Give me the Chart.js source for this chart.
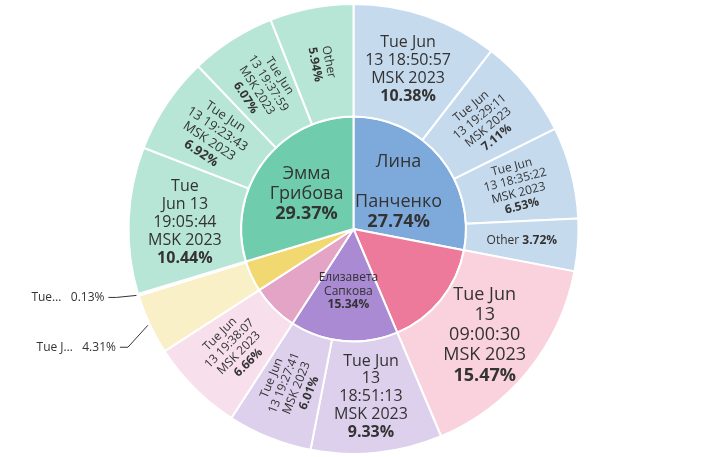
<!DOCTYPE html>
<html>
<head>
<meta charset="utf-8">
<script src="https://cdn.jsdelivr.net/npm/chart.js@4"></script>
<style>
  html, body { margin: 0; padding: 0; background: #fff; }
  #wrap { width: 707px; height: 457px; }
</style>
</head>
<body>
<div id="wrap"><canvas id="chart"></canvas></div>
<script>
// inner ring: people
const innerNames = ['Лина Панченко', 'p2', 'Елизавета Сапкова', 'p4', 'p5', 'Эмма Грибова'];
const innerValues = [27.74, 15.47, 15.34, 6.66, 4.44, 29.37];
const innerColors = ['#7eaadb', '#ee7a9b', '#a98ad3', '#e3a4c6', '#f2d870', '#6fcdae'];
const innerLines = [
  ['Лина', '', 'Панченко'], null, ['Елизавета', 'Сапкова'], null, null, ['Эмма', 'Грибова']
];

// outer ring: sessions
const outerValues = [10.38, 7.11, 6.53, 3.72, 15.47, 9.33, 6.01, 6.66, 4.31, 0.13, 10.44, 6.92, 6.07, 5.94];
const outerParent = [0, 0, 0, 0, 1, 2, 2, 3, 4, 4, 5, 5, 5, 5];
const outerLines = [
  ['Tue Jun', '13 18:50:57', 'MSK 2023'],
  ['Tue Jun', '13 19:29:11', 'MSK 2023'],
  ['Tue Jun', '13 18:35:22', 'MSK 2023'],
  ['Other'],
  ['Tue Jun', '13', '09:00:30', 'MSK 2023'],
  ['Tue Jun', '13', '18:51:13', 'MSK 2023'],
  ['Tue Jun', '13 19:27:41', 'MSK 2023'],
  ['Tue Jun', '13 19:38:07', 'MSK 2023'],
  ['Tue J…'],
  ['Tue…'],
  ['Tue', 'Jun 13', '19:05:44', 'MSK 2023'],
  ['Tue Jun', '13 19:23:43', 'MSK 2023'],
  ['Tue Jun', '13 19:37:59', 'MSK 2023'],
  ['Other']
];
const outerPalette = ['#c6daee', '#f9d2de', '#ddd0ec', '#f7e0ec', '#faf0c8', '#b8e6d6'];

// label styling per outer slice: mode h = horizontal, r = radial, o = outside
const outerMode = ['h', 'r', 'r', 'i', 'h', 'h', 'r', 'r', 'o', 'o', 'h', 'r', 'r', 'r'];
const outerSize = [16, 12, 12, 12, 18, 16, 12, 12, 12, 12, 16, 13, 12, 12];

const labelPlugin = {
  id: 'sunLabels',
  afterDatasetsDraw(chart) {
    const ctx = chart.ctx;
    ctx.save();
    ctx.fillStyle = '#333';
    ctx.textBaseline = 'middle';

    const drawBlock = (lines, pct, x, y, rot, size, pctSize) => {
      ctx.save();
      ctx.translate(x, y);
      ctx.rotate(rot);
      ctx.textAlign = 'center';
      const lh = size * 1.12;
      const all = lines.length + 1;
      let y0 = -((all - 1) * lh) / 2;
      lines.forEach((t, i) => {
        ctx.font = `${size}px "Open Sans", Arial, sans-serif`;
        ctx.fillText(t, 0, y0 + i * lh);
      });
      ctx.font = `bold ${pctSize}px "Open Sans", Arial, sans-serif`;
      ctx.fillText(pct, 0, y0 + lines.length * lh);
      ctx.restore();
    };

    const outerMeta = chart.getDatasetMeta(0);
    outerMeta.data.forEach((arc, i) => {
      const p = arc.getProps(['x', 'y', 'startAngle', 'endAngle', 'innerRadius', 'outerRadius']);
      const mid = (p.startAngle + p.endAngle) / 2;
      const r = (p.innerRadius + p.outerRadius) / 2;
      const cx = p.x + Math.cos(mid) * r;
      const cy = p.y + Math.sin(mid) * r;
      const pct = outerValues[i].toFixed(2) + '%';
      const mode = outerMode[i];
      const size = outerSize[i];
      if (mode === 'h') {
        drawBlock(outerLines[i], pct, cx, cy, 0, size, size);
      } else if (mode === 'i') {
        ctx.save();
        ctx.textAlign = 'center';
        ctx.font = `12px "Open Sans", Arial, sans-serif`;
        const w1 = ctx.measureText('Other ').width;
        ctx.font = `bold 12px "Open Sans", Arial, sans-serif`;
        const w2 = ctx.measureText(pct).width;
        const sx = cx - (w1 + w2) / 2;
        ctx.textAlign = 'left';
        ctx.font = `12px "Open Sans", Arial, sans-serif`;
        ctx.fillText('Other ', sx, cy);
        ctx.font = `bold 12px "Open Sans", Arial, sans-serif`;
        ctx.fillText(pct, sx + w1, cy);
        ctx.restore();
      } else if (mode === 'r') {
        let rot = mid;
        if (Math.cos(mid) < 0) rot += Math.PI;
        if (outerLines[i].length === 1) {
          ctx.save();
          ctx.translate(cx, cy);
          ctx.rotate(rot);
          ctx.textAlign = 'center';
          ctx.font = `12px "Open Sans", Arial, sans-serif`;
          ctx.fillText('Other', 0, -7);
          ctx.font = `bold 12px "Open Sans", Arial, sans-serif`;
          ctx.fillText(pct, 0, 7);
          ctx.restore();
        } else {
          drawBlock(outerLines[i], pct, cx, cy, rot, size, size);
        }
      } else {
        const ax = p.x + Math.cos(mid) * (p.outerRadius + 2);
        const ay = p.y + Math.sin(mid) * (p.outerRadius + 2);
        const ty = i === 8 ? ay + 22 : ay + 2;
        const tx = ax - 28;
        ctx.strokeStyle = '#333';
        ctx.lineWidth = 1;
        ctx.beginPath();
        ctx.moveTo(ax, ay);
        ctx.lineTo(tx + 8, ty);
        ctx.lineTo(tx, ty);
        ctx.stroke();
        ctx.textAlign = 'right';
        ctx.font = `12px "Open Sans", Arial, sans-serif`;
        ctx.fillText(outerLines[i][0] + '   ' + pct, tx - 4, ty);
      }
    });

    const innerMeta = chart.getDatasetMeta(1);
    innerMeta.data.forEach((arc, i) => {
      if (!innerLines[i]) return;
      const p = arc.getProps(['x', 'y', 'startAngle', 'endAngle', 'outerRadius']);
      const mid = (p.startAngle + p.endAngle) / 2;
      const r = p.outerRadius * 0.52;
      const cx = p.x + Math.cos(mid) * r;
      const cy = p.y + Math.sin(mid) * r;
      const pct = innerValues[i].toFixed(2) + '%';
      if (i === 2) drawBlock(innerLines[i], pct, cx, cy + 4, 0, 12, 12);
      else drawBlock(innerLines[i], pct, cx, cy, 0, 18, 18);
    });
    ctx.restore();
  }
};

new Chart(document.getElementById('chart'), {
  type: 'doughnut',
  data: {
    datasets: [
      {
        data: outerValues,
        backgroundColor: outerParent.map((p) => outerPalette[p]),
        borderColor: '#fff',
        borderWidth: 2
      },
      {
        data: innerValues,
        backgroundColor: innerColors,
        borderColor: '#fff',
        borderWidth: 2
      }
    ]
  },
  options: {
    responsive: true,
    maintainAspectRatio: false,
    animation: false,
    cutout: 0,
    layout: { padding: { top: 3, bottom: 2 } },
    plugins: { legend: { display: false }, tooltip: { enabled: false } }
  },
  plugins: [labelPlugin]
});
</script>
</body>
</html>
